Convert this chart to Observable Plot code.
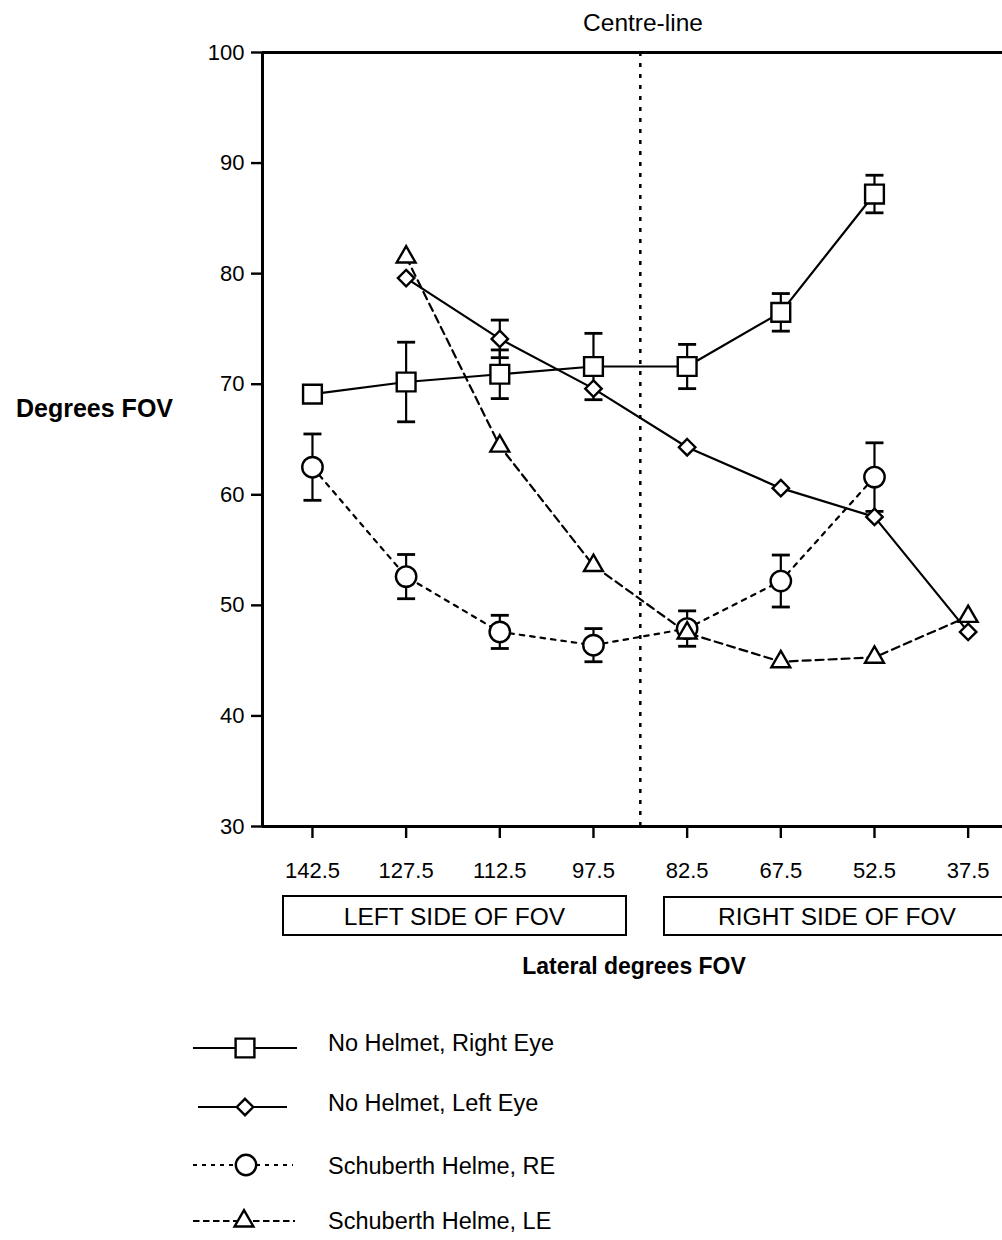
<!DOCTYPE html>
<html><head><meta charset="utf-8">
<script src="https://cdn.jsdelivr.net/npm/d3@7"></script>
<script src="https://cdn.jsdelivr.net/npm/@observablehq/plot@0.6"></script>
<style>
body{margin:0;background:#fff;}
#wrap{position:relative;width:1002px;height:1240px;overflow:hidden;font-family:"Liberation Sans",Arial,Helvetica,sans-serif;color:#000;background:#fff;}
#wrap svg{position:absolute;left:0;top:0;}
.t{position:absolute;white-space:nowrap;line-height:1;}
.c{text-align:center;width:500px;}
.b{font-weight:bold;}
.box{position:absolute;border:2.5px solid #000;box-sizing:border-box;}
</style></head><body><div id="wrap"></div>
<script>
// ---- data ----
const xValues = [142.5, 127.5, 112.5, 97.5, 82.5, 67.5, 52.5, 37.5];
const yTicks = [30, 40, 50, 60, 70, 80, 90, 100];
const xDomain = [150.5, 32];
const yDomain = [30, 100];
const centreLineX = 90;

const noHelmetRE     = [69.1, 70.2, 70.9, 71.6, 71.6, 76.5, 87.2, null];
const noHelmetREErr  = [null, 3.6, 2.2, 3.0, 2.0, 1.7, 1.7, null];
const noHelmetLE     = [null, 79.6, 74.1, 69.6, 64.3, 60.6, 58.0, 47.6];
const noHelmetLEErr  = [null, null, 1.7, null, null, null, null, null];
const schuberthRE    = [62.5, 52.6, 47.6, 46.4, 47.9, 52.2, 61.6, null];
const schuberthREErr = [3.0, 2.0, 1.5, 1.5, 1.6, 2.35, 3.1, null];
const schuberthLE    = [null, 81.5, 64.4, 53.6, 47.5, 44.9, 45.3, 49.0];
const schuberthLEErr = [null, null, null, null, null, null, null, null];

const seriesNames = ["No Helmet, Right Eye", "No Helmet, Left Eye", "Schuberth Helme, RE", "Schuberth Helme, LE"];

// ---- styling per series ----
const styles = [
  {symbol: "square",   r: 10.6, dash: null,  lw: 2.2},
  {symbol: "diamond2", r: 7.4,  dash: null,  lw: 2.2},
  {symbol: "circle",   r: 10.2, dash: "4.5,6", lw: 2.2},
  {symbol: "triangle", r: 7.0,  dash: "8,5", lw: 2.2}
];
const valueSets = [noHelmetRE, noHelmetLE, schuberthRE, schuberthLE];
const errSets = [noHelmetREErr, noHelmetLEErr, schuberthREErr, schuberthLEErr];

const rows = [];
valueSets.forEach((vals, si) => vals.forEach((v, i) => {
  if (v != null) rows.push({series: seriesNames[si], si, x: xValues[i], y: v, e: errSets[si][i]});
}));
const errRows = rows.filter(d => d.e != null);

const cap = {draw(ctx) { ctx.moveTo(-9, 0); ctx.lineTo(9, 0); }};

const marks = [
  Plot.ruleX([centreLineX], {stroke: "black", strokeWidth: 2.5, strokeDasharray: "4,7"}),
  ...seriesNames.map((s, si) => Plot.line(rows.filter(d => d.si === si), {
    x: "x", y: "y", stroke: "black", strokeWidth: styles[si].lw,
    strokeDasharray: styles[si].dash
  })),
  Plot.ruleX(errRows, {x: "x", y1: d => d.y - d.e, y2: d => d.y + d.e, stroke: "black", strokeWidth: 2.2}),
  Plot.dot(errRows, {x: "x", y: d => d.y + d.e, symbol: cap, fill: "none", stroke: "black", strokeWidth: 2.8}),
  Plot.dot(errRows, {x: "x", y: d => d.y - d.e, symbol: cap, fill: "none", stroke: "black", strokeWidth: 2.8}),
  ...seriesNames.map((s, si) => Plot.dot(rows.filter(d => d.si === si), {
    x: "x", y: "y", symbol: styles[si].symbol, r: styles[si].r,
    fill: "white", stroke: "black", strokeWidth: 2.4
  })),
  Plot.ruleY([yDomain[1]], {stroke: "black", strokeWidth: 3}),
  Plot.ruleY([yDomain[0]], {stroke: "black", strokeWidth: 3}),
  Plot.ruleX([xDomain[0]], {stroke: "black", strokeWidth: 3}),
  Plot.axisY({ticks: yTicks, tickSize: 11, tickPadding: 7, fontSize: 22, label: null, strokeWidth: 2.4, tickFormat: d => String(d)}),
  Plot.axisX({ticks: xValues, tickSize: 12, tickPadding: 24, fontSize: 22, label: null, strokeWidth: 2.4, tickFormat: d => d.toFixed(1)})
];

const chart = Plot.plot({
  width: 1002, height: 900,
  marginTop: 52, marginLeft: 262, marginRight: 0, marginBottom: 74,
  x: {domain: xDomain},
  y: {domain: yDomain},
  style: {fontFamily: '"Liberation Sans", Arial, Helvetica, sans-serif', color: "black", background: "transparent", overflow: "visible"},
  marks
});

const wrap = document.getElementById("wrap");
wrap.appendChild(chart);

function addText(txt, cls, left, top, fs) {
  const el = document.createElement("div");
  el.className = "t " + cls;
  el.textContent = txt;
  el.style.left = left + "px";
  el.style.top = top + "px";
  el.style.fontSize = fs + "px";
  wrap.appendChild(el);
  return el;
}
function addBox(left, top, w, h) {
  const el = document.createElement("div");
  el.className = "box";
  Object.assign(el.style, {left: left + "px", top: top + "px", width: w + "px", height: h + "px"});
  wrap.appendChild(el);
}

// titles & labels (baseline = top + 0.8465*fs)
addText("Centre-line", "c", 643 - 250, 32 - 0.8465 * 24.5, 24.5);
addText("Degrees FOV", "b", 16, 417.5 - 0.8465 * 25, 25);
addBox(282, 895, 345, 41);
addBox(663, 896, 360, 40);
addText("LEFT SIDE OF FOV", "c", 454.5 - 250, 926 - 0.8465 * 24.5, 24.5);
addText("RIGHT SIDE OF FOV", "c", 837 - 250, 926 - 0.8465 * 24.5, 24.5);
addText("Lateral degrees FOV", "c b", 634 - 250, 974 - 0.8465 * 23, 23);

// legend
const legendRows = [
  {cy: 1048, mx: 245, x1: 193, x2: 297, base: 1052},
  {cy: 1107, mx: 245, x1: 198, x2: 287, base: 1111.5},
  {cy: 1165, mx: 246, x1: 193, x2: 293, base: 1175},
  {cy: 1221, mx: 244, x1: 193, x2: 295, base: 1230}
];
const symMap = {square: d3.symbolSquare, diamond2: d3.symbolDiamond2, circle: d3.symbolCircle, triangle: d3.symbolTriangle};
const lsvg = d3.create("svg").attr("width", 1002).attr("height", 1240).style("pointer-events", "none");
const legendDash = ["", "", "4,5", "6.5,3.5"];
legendRows.forEach((r, i) => {
  lsvg.append("line").attr("x1", r.x1).attr("x2", r.x2).attr("y1", r.cy).attr("y2", r.cy)
    .attr("stroke", "black").attr("stroke-width", 2.2).attr("stroke-dasharray", legendDash[i] || null);
  const st = styles[i];
  lsvg.append("path").attr("transform", `translate(${r.mx},${r.cy})`)
    .attr("d", d3.symbol(symMap[st.symbol], st.r * st.r * Math.PI)())
    .attr("fill", "white").attr("stroke", "black").attr("stroke-width", 2.4);
  addText(seriesNames[i], "", 328, r.base - 0.8465 * 23.5, 23.5);
});
wrap.appendChild(lsvg.node());
</script>
</body></html>
